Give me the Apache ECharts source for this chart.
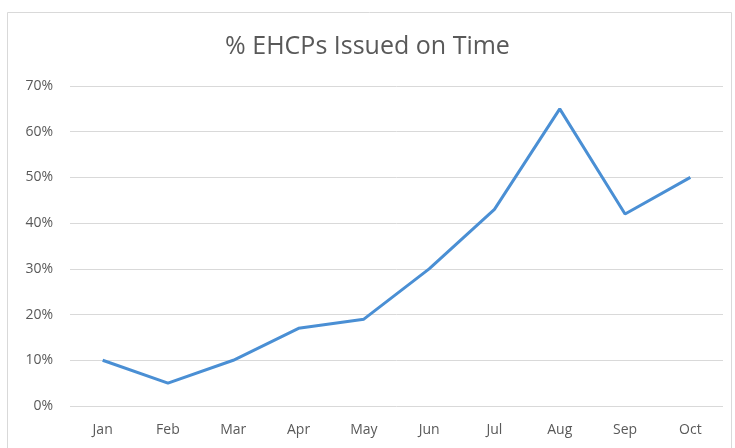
<!DOCTYPE html>
<html><head><meta charset="utf-8">
<script src="https://cdn.jsdelivr.net/npm/echarts@6/dist/echarts.min.js"></script>
<style>html,body{margin:0;padding:0;background:#fff}#c{width:735px;height:448px}</style>
</head><body><div id="c"></div>
<script>
const categories = ['Jan','Feb','Mar','Apr','May','Jun','Jul','Aug','Sep','Oct'];
const values = [10, 5, 10, 17, 19, 30, 43, 65, 42, 50];
const yTicks = [0, 10, 20, 30, 40, 50, 60, 70];
const titleText = '% EHCPs Issued on Time';

const chart = echarts.init(document.getElementById('c'));
chart.setOption({
  backgroundColor: '#fff',
  animation: false,
  graphic: [{
    type: 'rect', left: 5, top: 10, shape: { width: 724, height: 445 },
    style: { fill: 'none', stroke: '#d9d9d9', lineWidth: 1 }, silent: true
  }],
  title: {
    text: titleText, left: 'center', top: 29,
    textStyle: { fontFamily: 'Open Sans', fontWeight: 'normal', fontSize: 25, color: '#595959' }
  },
  grid: { left: 70, right: 12, top: 86, bottom: 42 },
  xAxis: {
    type: 'category', data: categories, boundaryGap: true,
    axisLine: { show: false }, axisTick: { show: false },
    axisLabel: { fontFamily: 'Open Sans', fontSize: 14, color: '#595959', margin: 17 }
  },
  yAxis: {
    type: 'value', min: yTicks[0], max: yTicks[yTicks.length - 1], interval: 10,
    axisLine: { show: false }, axisTick: { show: false },
    axisLabel: { fontFamily: 'Open Sans', fontSize: 14, color: '#595959', margin: 17, formatter: v => v + '%' },
    splitLine: { lineStyle: { color: '#d9d9d9', width: 1 } }
  },
  series: [{
    type: 'line', data: values, symbol: 'none',
    lineStyle: { color: '#4a8fd4', width: 3 }
  }]
});
</script></body></html>
